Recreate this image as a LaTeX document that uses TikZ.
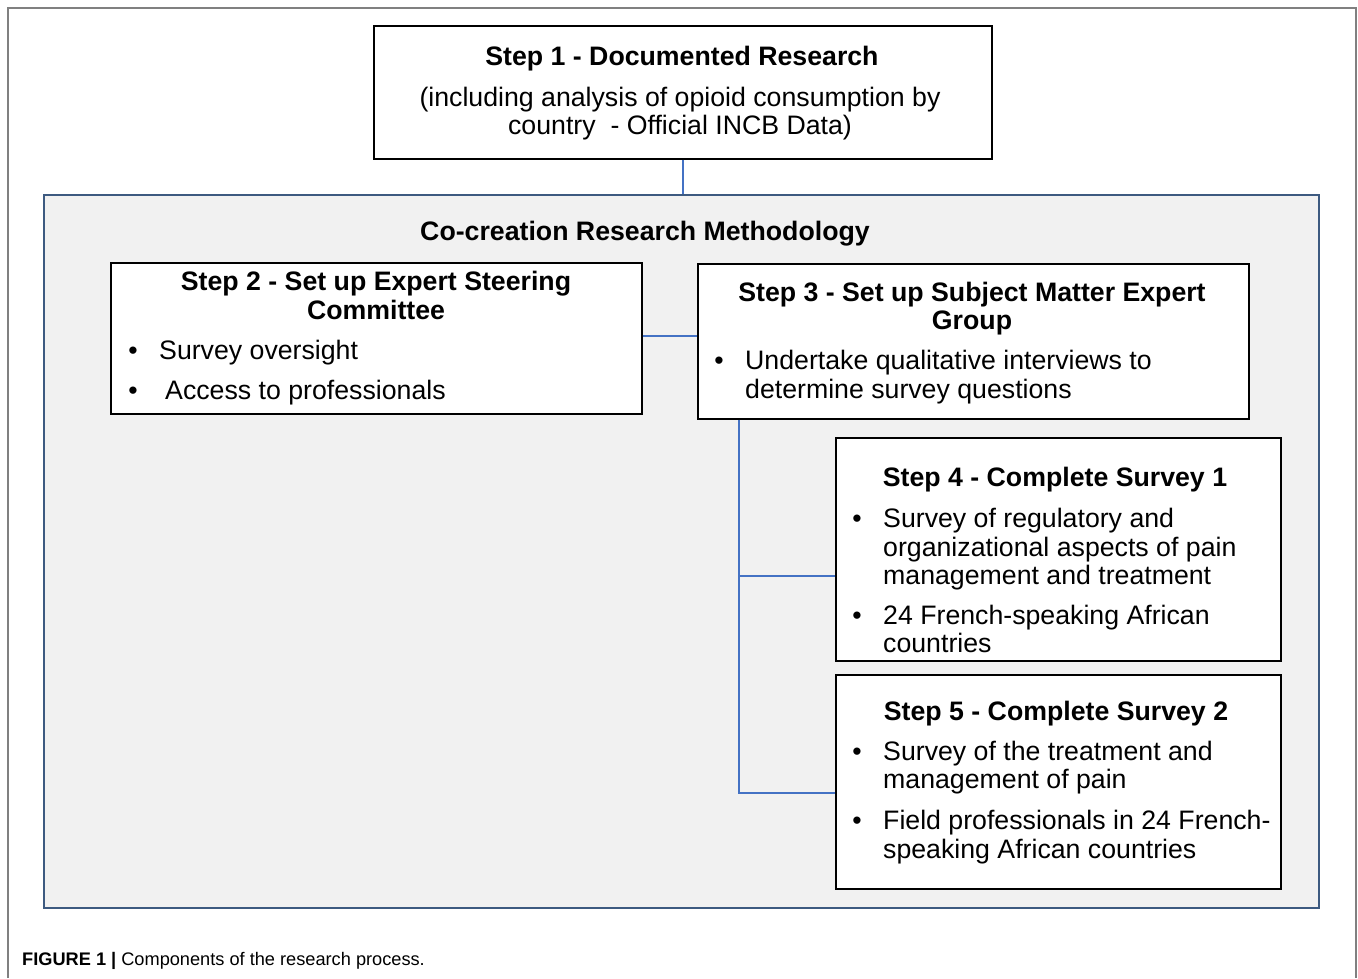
\documentclass[tikz,border=0pt]{standalone}
\usepackage{fontspec}
\setmainfont{Liberation Sans}
\definecolor{panelfill}{HTML}{F1F1F1}
\definecolor{panelline}{HTML}{3D5A80}
\definecolor{linkblue}{HTML}{4472C4}
\definecolor{framegray}{HTML}{808080}
\begin{document}
\begin{tikzpicture}[x=1pt,y=-1pt,
  stepbox/.style={draw=black, line width=1.6pt, fill=white, inner sep=0pt, anchor=north west},
  panel/.style={draw=panelline, line width=1.6pt, fill=panelfill, inner sep=0pt, anchor=north west},
  conn/.style={draw=linkblue, line width=1.5pt},
  ttl/.style={font=\bfseries\fontsize{26.7}{30}\selectfont, inner sep=0pt, anchor=mid, yshift=-7pt},
  txt/.style={font=\fontsize{26.7}{30}\selectfont, inner sep=0pt, anchor=mid west, yshift=-7pt},
  bul/.style={font=\fontsize{26.7}{30}\selectfont, inner sep=0pt, anchor=mid, yshift=-7pt}
]
\useasboundingbox (0,0) rectangle (1358,978);
\fill[white] (0,0) rectangle (1358,978);
\draw[framegray, line width=1.5pt] (8,978) -- (8,8) -- (1356,8) -- (1356,978);

% panel
\node[panel, minimum width=1275pt, minimum height=713pt] (panel) at (43,194) {};
\node[ttl] (paneltitle) at (645,231) {Co-creation Research Methodology};

% step 1
\node[stepbox, minimum width=618pt, minimum height=133pt] (s1) at (373,25) {};
\node[ttl] (s1a) at (682,56) {Step 1 - Documented Research};
\node[txt, anchor=mid] (s1b) at (680,97) {(including analysis of opioid consumption by};
\node[txt, anchor=mid] (s1c) at (680,125) {country \ - Official INCB Data)};

% step 2
\node[stepbox, minimum width=531pt, minimum height=151pt] (s2) at (110,262) {};
\node[ttl] (s2a) at (376,281) {Step 2 - Set up Expert Steering};
\node[ttl] (s2b) at (376,310) {Committee};
\node[bul] (s2d1) at (133,350) {•};
\node[txt] (s2t1) at (159,350) {Survey oversight};
\node[bul] (s2d2) at (133,390) {•};
\node[txt] (s2t2) at (165,390) {Access to professionals};

% step 3
\node[stepbox, minimum width=551pt, minimum height=155pt] (s3) at (697,263) {};
\node[ttl] (s3a) at (972,292) {Step 3 - Set up Subject Matter Expert};
\node[ttl] (s3b) at (972,320) {Group};
\node[bul] (s3d1) at (719,360) {•};
\node[txt] (s3t1) at (745,360) {Undertake qualitative interviews to};
\node[txt] (s3t2) at (745,389) {determine survey questions};

% step 4
\node[stepbox, minimum width=445pt, minimum height=223pt] (s4) at (835,437) {};
\node[ttl] (s4a) at (1055,477) {Step 4 - Complete Survey 1};
\node[bul] (s4d1) at (857,518) {•};
\node[txt] (s4t1) at (883,518) {Survey of regulatory and};
\node[txt] (s4t2) at (883,547) {organizational aspects of pain};
\node[txt] (s4t3) at (883,575) {management and treatment};
\node[bul] (s4d2) at (857,615) {•};
\node[txt] (s4t4) at (883,615) {24 French-speaking African};
\node[txt] (s4t5) at (883,643) {countries};

% step 5
\node[stepbox, minimum width=445pt, minimum height=214pt] (s5) at (835,674) {};
\node[ttl] (s5a) at (1056,711) {Step 5 - Complete Survey 2};
\node[bul] (s5d1) at (857,751) {•};
\node[txt] (s5t1) at (883,751) {Survey of the treatment and};
\node[txt] (s5t2) at (883,779) {management of pain};
\node[bul] (s5d2) at (857,820) {•};
\node[txt] (s5t3) at (883,820) {Field professionals in 24 French-};
\node[txt] (s5t4) at (883,849) {speaking African countries};

% connectors
\draw[conn] (s1.south) -- (s1.south |- panel.north);
\draw[conn] (s2.east |- 0,336) -- (s3.west |- 0,336);
\coordinate (trunk) at (739,418);
\draw[conn] (s3.south west -| trunk) -- (trunk |- 0,793) -- (s5.west |- 0,793);
\draw[conn] (trunk |- 0,576) -- (s4.west |- 0,576);

% caption
\node[font=\fontsize{18.2}{21}\selectfont, inner sep=0pt, anchor=mid west, yshift=-4pt] (cap) at (22,959) {\textbf{FIGURE 1 |} Components of the research process.};
\end{tikzpicture}
\end{document}
